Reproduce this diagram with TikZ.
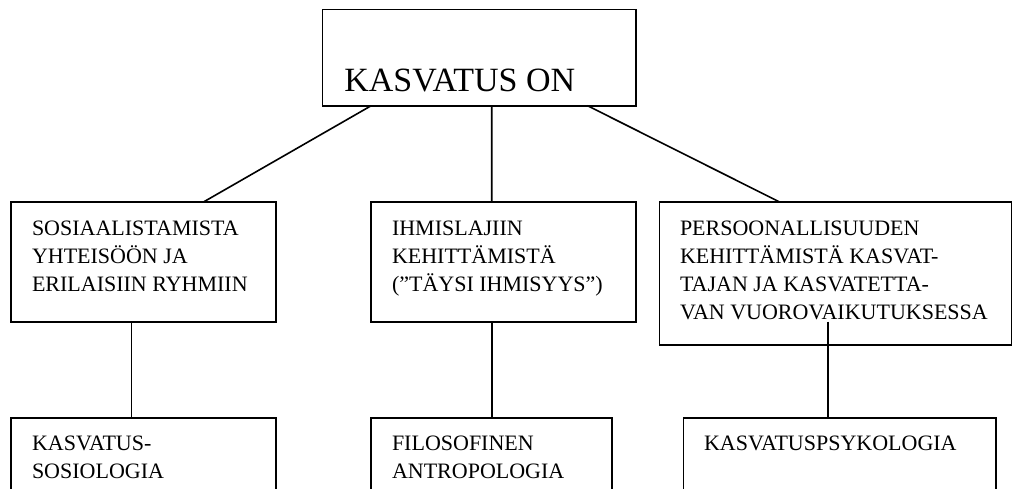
\documentclass[tikz,border=0pt]{standalone}
\usepackage{fontspec}
\setmainfont{Liberation Serif}
\usetikzlibrary{calc}
\tikzset{
  box/.style={draw=black, line width=1.6pt, rectangle, anchor=north west, inner sep=0pt, outer sep=0pt},
  lbl/.style={anchor=base west, inner sep=0pt, outer sep=0pt, align=left, font=\fontsize{22}{28.3}\selectfont},
  toplbl/.style={anchor=base west, inner sep=0pt, outer sep=0pt, font=\fontsize{34}{38}\selectfont},
  link/.style={draw=black, line width=1.6pt}
}
\begin{document}
\begin{tikzpicture}[x=1pt,y=-1pt]
\useasboundingbox (0,0) rectangle (1013,488);
\clip (0,0) rectangle (1013,488);
% boxes
\node[box, minimum width=313.1pt, minimum height=96.4pt] (top) at (322.6,9.3) {};
\node[box, minimum width=265pt, minimum height=120pt] (soc) at (11,201.7) {};
\node[box, minimum width=265pt, minimum height=120pt] (ihm) at (371,201.7) {};
\node[box, minimum width=352.3pt, minimum height=143.3pt] (pers) at (659.3,201.7) {};
\node[box, minimum width=265pt, minimum height=100pt] (sos) at (11,417.7) {};
\node[box, minimum width=240.7pt, minimum height=100pt] (fil) at (371,417.7) {};
\node[box, minimum width=312.4pt, minimum height=100pt] (psy) at (683.3,417.7) {};
% texts (base anchor = baseline of the last line)
\node[toplbl] (ttop) at (344.4,91) {KASVATUS ON};
\node[lbl] (tsoc) at (32,291.6) {SOSIAALISTAMISTA\\YHTEISÖÖN JA\\ERILAISIIN RYHMIIN};
\node[lbl] (tihm) at (392,291.6) {IHMISLAJIIN\\KEHITTÄMISTÄ\\(”TÄYSI IHMISYYS”)};
\node[lbl] (tpers) at (680,319.9) {PERSOONALLISUUDEN\\KEHITTÄMISTÄ KASVAT-\\TAJAN JA KASVATETTA-\\VAN VUOROVAIKUTUKSESSA};
\node[lbl] (tsos) at (32,478.3) {KASVATUS-\\SOSIOLOGIA};
\node[lbl] (tfil) at (392,478.3) {FILOSOFINEN\\ANTROPOLOGIA};
\node[lbl] (tpsy) at (704,450) {KASVATUSPSYKOLOGIA};
% connectors
\draw[link] ([xshift=48.6pt]top.south west) -- ([xshift=193pt]soc.north west);
\draw[link] ([xshift=169.1pt]top.south west) -- ([xshift=120.7pt]ihm.north west);
\draw[link] ([xshift=264.9pt]top.south west) -- ([xshift=119.7pt]pers.north west);
\draw[link] ([xshift=120.3pt]soc.south west) -- ([xshift=120.3pt]sos.north west);
\draw[link] ([xshift=120.7pt]ihm.south west) -- ([xshift=120.7pt]fil.north west);
\coordinate (pstart) at ([xshift=168.4pt, yshift=-120pt]pers.north west);
\draw[link] (pstart) -- ([xshift=144.4pt]psy.north west);
\end{tikzpicture}
\end{document}
